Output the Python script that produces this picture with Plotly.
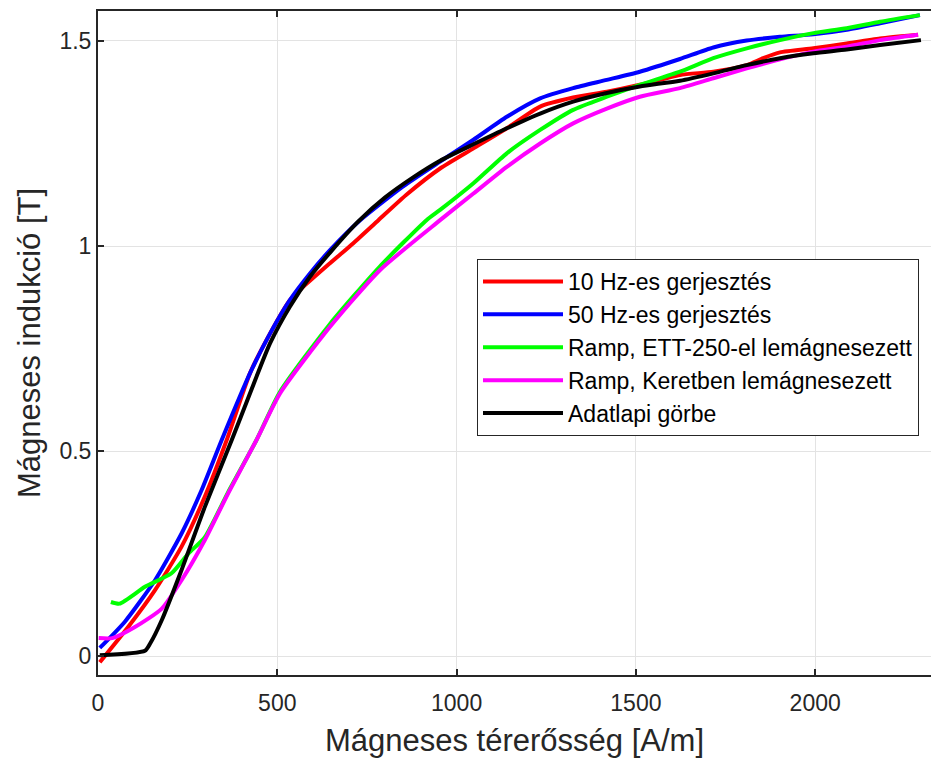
import plotly.graph_objects as go

# 10 Hz-es gerjesztés
H_10hz = [5, 84, 159, 233, 298, 359, 424, 480, 535, 563, 647, 712, 782, 860, 954, 1047, 1140, 1233, 1325, 1419, 1511, 1623, 1716, 1809, 1855, 1902, 1995, 2088, 2181, 2287]
B_10hz = [-0.015, 0.071, 0.161, 0.267, 0.389, 0.527, 0.69, 0.787, 0.868, 0.893, 0.958, 1.007, 1.063, 1.125, 1.189, 1.238, 1.287, 1.34, 1.362, 1.376, 1.393, 1.417, 1.425, 1.441, 1.458, 1.472, 1.482, 1.494, 1.506, 1.515]

# 50 Hz-es gerjesztés
H_50hz = [5, 75, 159, 233, 289, 345, 424, 480, 535, 591, 647, 731, 850, 954, 1047, 1140, 1233, 1325, 1419, 1511, 1623, 1716, 1809, 1902, 1995, 2088, 2181, 2292]
B_50hz = [0.02, 0.084, 0.185, 0.299, 0.405, 0.527, 0.69, 0.787, 0.868, 0.933, 0.99, 1.063, 1.145, 1.206, 1.259, 1.315, 1.36, 1.385, 1.405, 1.425, 1.456, 1.484, 1.501, 1.51, 1.516, 1.527, 1.543, 1.563]

# Ramp, ETT-250-el lemágnesezett
H_ett = [36, 60, 131, 205, 252, 298, 363, 442, 508, 647, 786, 916, 954, 1047, 1140, 1233, 1325, 1419, 1511, 1623, 1716, 1809, 1902, 1995, 2088, 2181, 2292]
B_ett = [0.132, 0.128, 0.169, 0.202, 0.25, 0.29, 0.40, 0.527, 0.645, 0.81, 0.95, 1.063, 1.088, 1.153, 1.226, 1.283, 1.332, 1.364, 1.393, 1.425, 1.458, 1.482, 1.502, 1.519, 1.531, 1.547, 1.563]

# Ramp, Keretben lemágnesezett
H_keret = [2, 40, 103, 178, 233, 298, 363, 442, 508, 647, 786, 954, 1047, 1140, 1233, 1325, 1419, 1511, 1623, 1716, 1809, 1902, 1995, 2088, 2181, 2287]
B_keret = [0.044, 0.044, 0.071, 0.116, 0.185, 0.283, 0.397, 0.527, 0.641, 0.803, 0.941, 1.063, 1.128, 1.193, 1.25, 1.299, 1.335, 1.364, 1.385, 1.409, 1.433, 1.455, 1.474, 1.486, 1.502, 1.515]

# Adatlapi görbe
H_adat = [5, 131, 145, 178, 233, 298, 373, 424, 480, 535, 591, 647, 726, 800, 880, 954, 1047, 1140, 1233, 1325, 1419, 1511, 1623, 1716, 1809, 1902, 1995, 2088, 2181, 2295]
B_adat = [0.002, 0.013, 0.03, 0.088, 0.21, 0.364, 0.527, 0.641, 0.763, 0.852, 0.925, 0.984, 1.06, 1.118, 1.168, 1.208, 1.248, 1.287, 1.323, 1.352, 1.373, 1.389, 1.403, 1.421, 1.441, 1.458, 1.47, 1.479, 1.49, 1.502]

series = [
    ("10 Hz-es gerjesztés", H_10hz, B_10hz, "#ff0000"),
    ("50 Hz-es gerjesztés", H_50hz, B_50hz, "#0000ff"),
    ("Ramp, ETT-250-el lemágnesezett", H_ett, B_ett, "#00ff00"),
    ("Ramp, Keretben lemágnesezett", H_keret, B_keret, "#ff00ff"),
    ("Adatlapi görbe", H_adat, B_adat, "#000000"),
]

fig = go.Figure()
for name, hx, by, col in series:
    fig.add_trace(go.Scatter(
        x=hx, y=by, mode="lines", name=name,
        line=dict(color=col, width=4, shape="spline", smoothing=0.6),
    ))

axis_col = "#262626"
fig.update_layout(
    width=931, height=758,
    margin=dict(l=98, r=0, t=11, b=83, autoexpand=False),
    paper_bgcolor="white", plot_bgcolor="white",
    font=dict(family="Arial, Liberation Sans, sans-serif", color=axis_col),
    showlegend=True,
    legend=dict(
        x=(919 - 98) / 833, y=(675 - 259) / 664, xanchor="right", yanchor="top",
        bgcolor="white", bordercolor=axis_col, borderwidth=1,
        font=dict(size=23, color="black"),
        itemwidth=80,
    ),
    xaxis=dict(
        range=[0, 2323], tickvals=[0, 500, 1000, 1500, 2000],
        showgrid=True, gridcolor="#e3e3e3", gridwidth=1, zeroline=False,
        showline=True, linecolor=axis_col, linewidth=2, mirror="ticks",
        ticks="inside", ticklen=6, tickwidth=2, tickcolor=axis_col,
        tickfont=dict(size=23, color=axis_col), automargin=False,
        ticklabelstandoff=6,
        title=dict(text="Mágneses térerősség [A/m]", font=dict(size=31, color=axis_col), standoff=23),
    ),
    yaxis=dict(
        range=[-0.046, 1.573], tickvals=[0, 0.5, 1, 1.5], ticktext=["0", "0.5", "1", "1.5"],
        showgrid=True, gridcolor="#e3e3e3", gridwidth=1, zeroline=False,
        showline=True, linecolor=axis_col, linewidth=2,
        ticks="inside", ticklen=6, tickwidth=2, tickcolor=axis_col,
        tickfont=dict(size=23, color=axis_col), automargin=False,
        title=dict(text="Mágneses indukció [T]", font=dict(size=31, color=axis_col), standoff=10),
    ),
)

fig.write_html(
    "out.html",
    config={"displayModeBar": False},
    post_script="document.body.style.margin='0';document.body.style.overflow='hidden';",
)
